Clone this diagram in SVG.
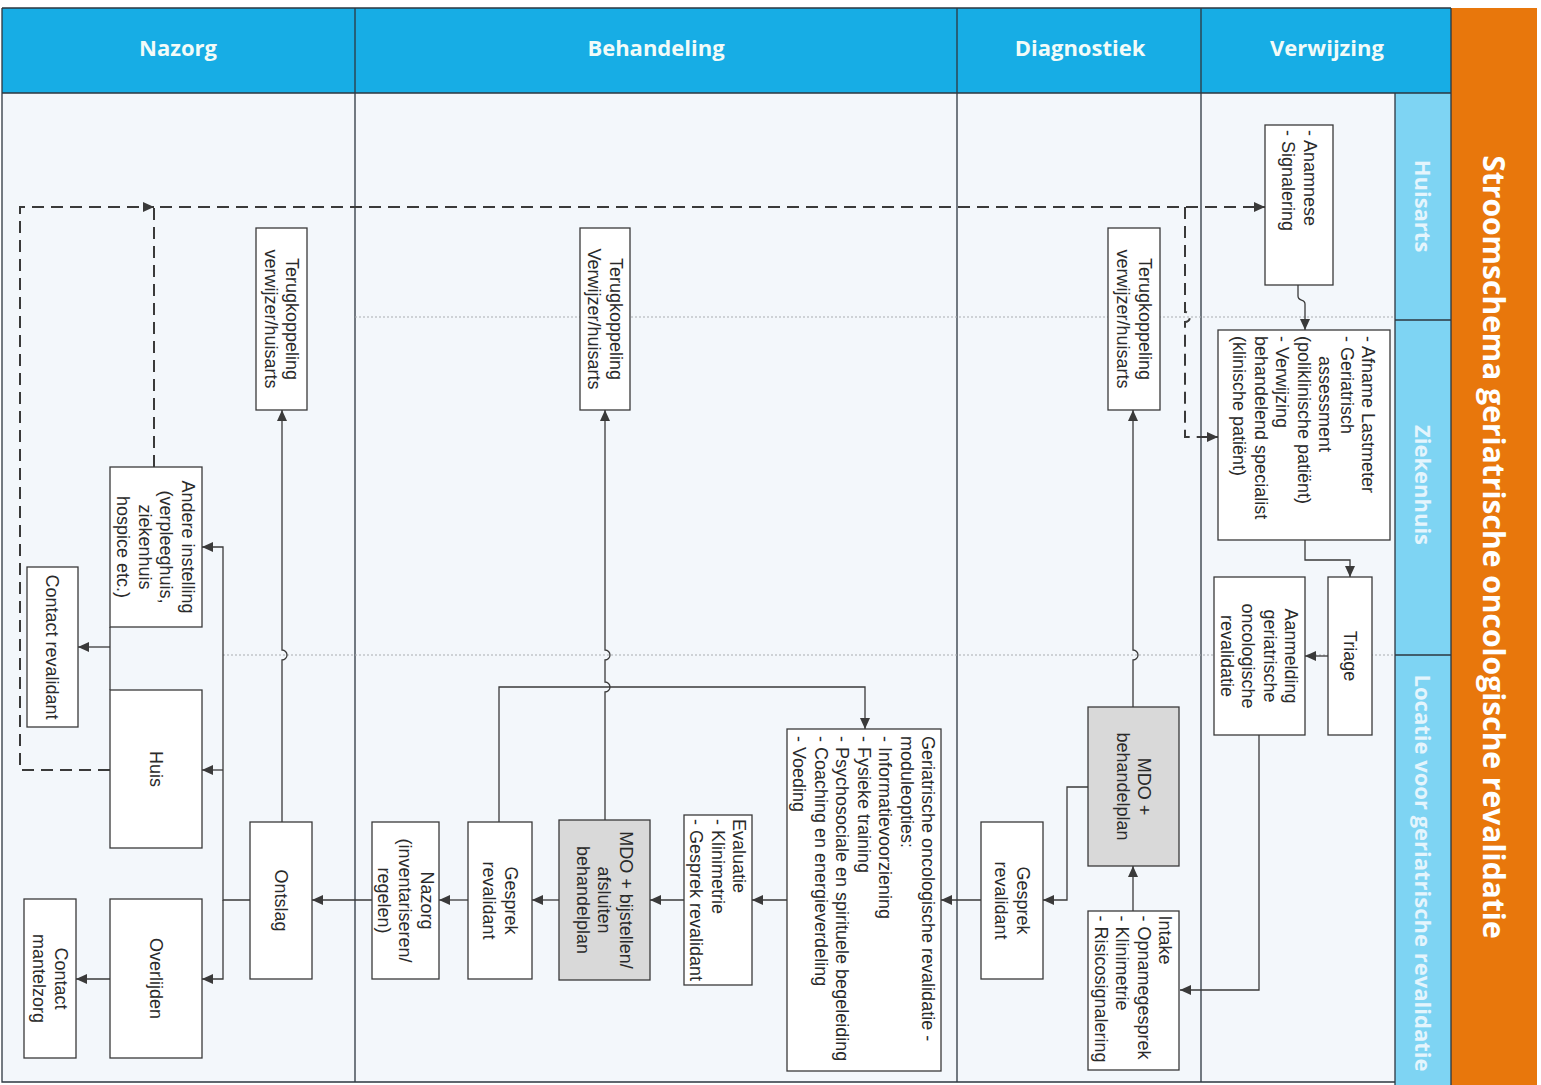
<svg xmlns="http://www.w3.org/2000/svg" width="1541" height="1085" viewBox="0 0 1541 1085">
<style>
.bg{fill:#f3f7fb}
.frame{stroke:#2d3740;stroke-width:1.3;fill:none}
.hdr{font-family:"Open Sans","Liberation Sans",sans-serif;font-weight:bold;font-size:22px;fill:#f2fbf8;text-anchor:middle}
.lane{font-family:"Open Sans","Liberation Sans",sans-serif;font-weight:bold;font-size:22px;fill:#e4f5fd;text-anchor:middle}
.title{font-family:"Open Sans","Liberation Sans",sans-serif;font-weight:bold;font-size:30px;fill:#ffffff;text-anchor:middle}
.box{fill:#ffffff;stroke:#3a3a3a;stroke-width:1.3}
.gray{fill:#d9d9d9}
.t{font-family:"Liberation Sans",Arial,sans-serif;font-size:18px;fill:#2a2a2a}
.m{text-anchor:middle}
.s{text-anchor:start}
.conn{fill:none;stroke:#3a3a3a;stroke-width:1.3}
.dash{fill:none;stroke:#3a3a3a;stroke-width:2;stroke-dasharray:12 7}
.dot{fill:none;stroke:#a9adb2;stroke-width:1.2;stroke-dasharray:2 2}
</style>
<defs>
<marker id="arr" markerUnits="userSpaceOnUse" markerWidth="12" markerHeight="10" refX="11" refY="5" orient="auto">
<path d="M0,0 L11,5 L0,10 z" fill="#3a3a3a"/>
</marker>
</defs>

<!-- backgrounds -->
<rect class="bg" x="2" y="93" width="1393" height="989"/>
<rect x="2" y="8" width="1449" height="85" fill="#17ade5"/>
<rect x="1395" y="93" width="56" height="992" fill="#7ed4f3"/>
<rect x="1451" y="8" width="86" height="1077" fill="#e8770c"/>

<!-- frame lines -->
<g class="frame">
<path d="M2,8 H1451 M2,93 H1451 M2,8 V1082 H1395 M355,8 V1082 M957,8 V1082 M1201,8 V1082 M1395,93 V1085 M1451,8 V1085 M1395,320 H1451 M1395,655 H1451"/>
</g>

<!-- headers -->
<text class="hdr" x="178" y="56">Nazorg</text>
<text class="hdr" x="656" y="56">Behandeling</text>
<text class="hdr" x="1080" y="56">Diagnostiek</text>
<text class="hdr" x="1327" y="56">Verwijzing</text>

<!-- lane labels -->
<text class="lane" transform="translate(1423,206) rotate(90)" y="8">Huisarts</text>
<text class="lane" transform="translate(1423,485) rotate(90)" y="8">Ziekenhuis</text>
<text class="lane" transform="translate(1423,873) rotate(90)" y="8">Locatie voor geriatrische revalidatie</text>

<!-- title -->
<text class="title" transform="translate(1494,547) rotate(90)" y="11">Stroomschema geriatrische oncologische revalidatie</text>

<!-- lane separators (dotted) -->
<g id="lanes">
<path class="dot" d="M355,317 H1395"/>
<path class="dot" d="M223,655 H1395"/>
</g>

<!-- connectors -->
<g id="connectors">
<path class="dash" d="M110,770 H20 V207 H154" marker-end="url(#arr)"/>
<path class="dash" d="M154,467 V207 H1265" marker-end="url(#arr)"/>
<path class="dash" d="M1185,207 V312 A5,5 0 0 1 1185,322 V437 H1218" marker-end="url(#arr)"/>
<path class="conn" d="M1298,285 V296 C1298,302 1305,298 1305,304 V330" marker-end="url(#arr)"/>
<path class="conn" d="M1305,540 V560 H1350 V577" marker-end="url(#arr)"/>
<path class="conn" d="M1328,656 H1305" marker-end="url(#arr)"/>
<path class="conn" d="M1259,735 V990 H1180" marker-end="url(#arr)"/>
<path class="conn" d="M1133,911 V866" marker-end="url(#arr)"/>
<path class="conn" d="M1133,707 V660 A5,5 0 0 0 1133,650 V410" marker-end="url(#arr)"/>
<path class="conn" d="M1088,787 H1067 V900 H1043" marker-end="url(#arr)"/>
<path class="conn" d="M981,900 H941" marker-end="url(#arr)"/>
<path class="conn" d="M787,900 H752" marker-end="url(#arr)"/>
<path class="conn" d="M684,900 H650" marker-end="url(#arr)"/>
<path class="conn" d="M559,900 H532" marker-end="url(#arr)"/>
<path class="conn" d="M468,900 H439" marker-end="url(#arr)"/>
<path class="conn" d="M372,900 H312" marker-end="url(#arr)"/>
<path class="conn" d="M605,820 V692 A5,5 0 0 0 605,682 V660 A5,5 0 0 0 605,650 V410" marker-end="url(#arr)"/>
<path class="conn" d="M499,822 V687 H865 V729" marker-end="url(#arr)"/>
<path class="conn" d="M282,822 V660 A5,5 0 0 0 282,650 V410" marker-end="url(#arr)"/>
<path class="conn" d="M250,900 H223 V547 H202" marker-end="url(#arr)"/>
<path class="conn" d="M223,770 H202" marker-end="url(#arr)"/>
<path class="conn" d="M223,900 V979 H202" marker-end="url(#arr)"/>
<path class="conn" d="M110,627 V690"/>
<path class="conn" d="M110,647 H78" marker-end="url(#arr)"/>
<path class="conn" d="M110,979 H76" marker-end="url(#arr)"/>
</g>

<!-- nodes -->
<g id="anamnese">
<rect class="box" x="1265" y="125" width="68" height="160"/>
<text class="t s" transform="translate(1299,205) rotate(90)"><tspan x="-75" y="-4.5">- Anamnese</tspan><tspan x="-75" y="17">- Signalering</tspan></text>
</g>
<g id="ziekenhuis">
<rect class="box" x="1218" y="330" width="172" height="210"/>
<text class="t s" transform="translate(1304,435) rotate(90)"><tspan x="-99" y="-58">- Afname Lastmeter</tspan><tspan x="-99" y="-36.5">- Geriatrisch</tspan><tspan x="-79" y="-15">assessment</tspan><tspan x="-99" y="6.5">(poliklinische patiënt)</tspan><tspan x="-99" y="28">- Verwijzing</tspan><tspan x="-99" y="49.5">behandelend specialist</tspan><tspan x="-99" y="71">(klinische patiënt)</tspan></text>
</g>
<g id="triage">
<rect class="box" x="1328" y="577" width="44" height="158"/>
<text class="t m" transform="translate(1350,656) rotate(90)" x="0" y="6.5">Triage</text>
</g>
<g id="aanmelding">
<rect class="box" x="1214" y="577" width="91" height="158"/>
<text class="t m" transform="translate(1259.5,656) rotate(90)"><tspan x="0" y="-25.75">Aanmelding</tspan><tspan x="0" y="-4.25">geriatrische</tspan><tspan x="0" y="17.25">oncologische</tspan><tspan x="0" y="38.75">revalidatie</tspan></text>
</g>
<g id="intake">
<rect class="box" x="1088" y="911" width="91" height="159"/>
<text class="t s" transform="translate(1133.5,990.5) rotate(90)"><tspan x="-75" y="-25.75">Intake</tspan><tspan x="-75" y="-4.25">- Opnamegesprek</tspan><tspan x="-75" y="17.25">- Klinimetrie</tspan><tspan x="-75" y="38.75">- Risicosignalering</tspan></text>
</g>
<g id="mdo1">
<rect class="box gray" x="1088" y="707" width="91" height="159"/>
<text class="t m" transform="translate(1133.5,786.5) rotate(90)"><tspan x="0" y="-4.5">MDO +</tspan><tspan x="0" y="17">behandelplan</tspan></text>
</g>
<g id="gesprek1">
<rect class="box" x="981" y="822" width="62" height="157"/>
<text class="t m" transform="translate(1012,900.5) rotate(90)"><tspan x="0" y="-4.5">Gesprek</tspan><tspan x="0" y="17">revalidant</tspan></text>
</g>
<g id="terug1">
<rect class="box" x="1108" y="228" width="52" height="182"/>
<text class="t m" transform="translate(1134,319) rotate(90)"><tspan x="0" y="-4.5">Terugkoppeling</tspan><tspan x="0" y="17">verwijzer/huisarts</tspan></text>
</g>
<g id="modules">
<rect class="box" x="787" y="729" width="154" height="342"/>
<text class="t s" transform="translate(864,900) rotate(90)"><tspan x="-164" y="-58">Geriatrische oncologische revalidatie -</tspan><tspan x="-164" y="-36.5">moduleopties:</tspan><tspan x="-164" y="-15">- Informatievoorziening</tspan><tspan x="-164" y="6.5">- Fysieke training</tspan><tspan x="-164" y="28">- Psychosociale en spirituele  begeleiding</tspan><tspan x="-164" y="49.5">- Coaching en energieverdeling</tspan><tspan x="-164" y="71">- Voeding</tspan></text>
</g>
<g id="evaluatie">
<rect class="box" x="684" y="815" width="68" height="170"/>
<text class="t s" transform="translate(718,900) rotate(90)"><tspan x="-81" y="-15">Evaluatie</tspan><tspan x="-81" y="6.5">- Klinimetrie</tspan><tspan x="-81" y="28">- Gesprek revalidant</tspan></text>
</g>
<g id="mdo2">
<rect class="box gray" x="559" y="820" width="91" height="160"/>
<text class="t m" transform="translate(604.5,900) rotate(90)"><tspan x="0" y="-15">MDO + bijstellen/</tspan><tspan x="0" y="6.5">afsluiten</tspan><tspan x="0" y="28">behandelplan</tspan></text>
</g>
<g id="gesprek2">
<rect class="box" x="468" y="822" width="64" height="157"/>
<text class="t m" transform="translate(500,900.5) rotate(90)"><tspan x="0" y="-4.5">Gesprek</tspan><tspan x="0" y="17">revalidant</tspan></text>
</g>
<g id="nazorgnode">
<rect class="box" x="372" y="822" width="67" height="157"/>
<text class="t m" transform="translate(405.5,900.5) rotate(90)"><tspan x="0" y="-15">Nazorg</tspan><tspan x="0" y="6.5">(inventariseren/</tspan><tspan x="0" y="28">regelen)</tspan></text>
</g>
<g id="terug2">
<rect class="box" x="580" y="228" width="50" height="182"/>
<text class="t m" transform="translate(605,319) rotate(90)"><tspan x="0" y="-4.5">Terugkoppeling</tspan><tspan x="0" y="17">Verwijzer/huisarts</tspan></text>
</g>
<g id="terug3">
<rect class="box" x="256" y="228" width="51" height="182"/>
<text class="t m" transform="translate(281.5,319) rotate(90)"><tspan x="0" y="-4.5">Terugkoppeling</tspan><tspan x="0" y="17">verwijzer/huisarts</tspan></text>
</g>
<g id="ontslag">
<rect class="box" x="250" y="822" width="62" height="157"/>
<text class="t m" transform="translate(281,900.5) rotate(90)" x="0" y="6.5">Ontslag</text>
</g>
<g id="andere">
<rect class="box" x="110" y="467" width="92" height="160"/>
<text class="t m" transform="translate(156,547) rotate(90)"><tspan x="0" y="-25.75">Andere instelling</tspan><tspan x="0" y="-4.25">(verpleeghuis,</tspan><tspan x="0" y="17.25">ziekenhuis</tspan><tspan x="0" y="38.75">hospice etc.)</tspan></text>
</g>
<g id="contactrev">
<rect class="box" x="27" y="567" width="51" height="160"/>
<text class="t m" transform="translate(52.5,647) rotate(90)" x="0" y="6.5">Contact revalidant</text>
</g>
<g id="huis">
<rect class="box" x="110" y="690" width="92" height="158"/>
<text class="t m" transform="translate(156,769) rotate(90)" x="0" y="6.5">Huis</text>
</g>
<g id="overlijden">
<rect class="box" x="110" y="899" width="92" height="159"/>
<text class="t m" transform="translate(156,978.5) rotate(90)" x="0" y="6.5">Overlijden</text>
</g>
<g id="contactmantel">
<rect class="box" x="24" y="899" width="52" height="159"/>
<text class="t m" transform="translate(50,978.5) rotate(90)"><tspan x="0" y="-4.5">Contact</tspan><tspan x="0" y="17">mantelzorg</tspan></text>
</g>
</svg>
